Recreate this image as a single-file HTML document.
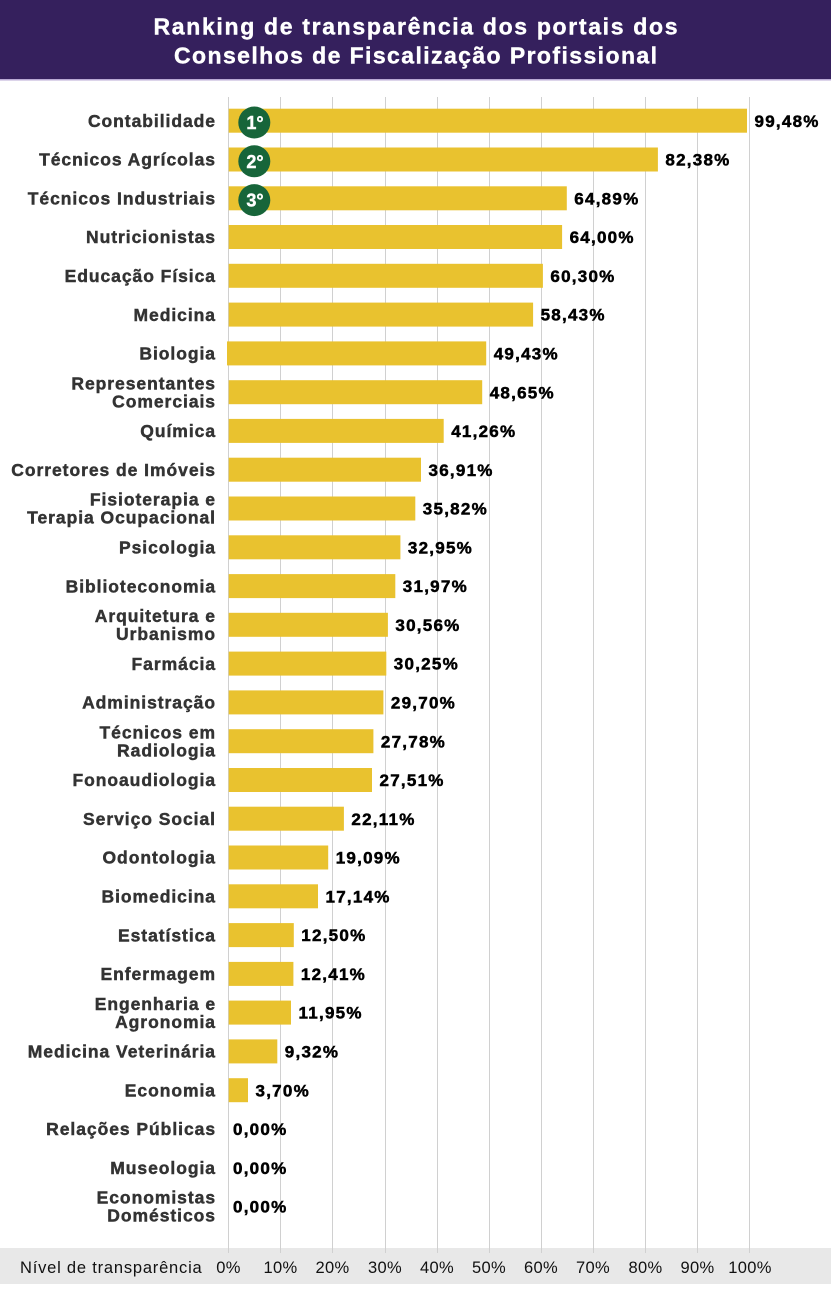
<!DOCTYPE html>
<html><head><meta charset="utf-8"><style>
html,body{margin:0;padding:0;background:#fff;}
svg{display:block;}
.lb{font-family:"Liberation Sans",sans-serif;font-weight:bold;font-size:17.5px;fill:#333;stroke:#333;stroke-width:0.45px;letter-spacing:0.95px;}
.vl{font-family:"Liberation Sans",sans-serif;font-weight:bold;font-size:17px;fill:#000;stroke:#000;stroke-width:0.5px;letter-spacing:1.25px;}
.tk{font-family:"Liberation Sans",sans-serif;font-size:16.5px;fill:#111;letter-spacing:0.3px;}
.md{font-family:"Liberation Sans",sans-serif;font-weight:bold;font-size:18px;fill:#fff;stroke:#fff;stroke-width:0.4px;}
</style></head><body>
<svg width="831" height="1300" viewBox="0 0 831 1300" xmlns="http://www.w3.org/2000/svg">
<rect x="0" y="0" width="831" height="1300" fill="#fff"/>
<rect x="0" y="0" width="831" height="79" fill="#35205d"/>
<rect x="0" y="79" width="831" height="1.5" fill="#b9a9d4"/>
<text x="415.5" y="34.5" text-anchor="middle" font-family="Liberation Sans, sans-serif" font-weight="bold" font-size="23" fill="#fff" stroke="#fff" stroke-width="0.4" textLength="524" lengthAdjust="spacing">Ranking de transparência dos portais dos</text>
<text x="415.5" y="63.5" text-anchor="middle" font-family="Liberation Sans, sans-serif" font-weight="bold" font-size="23" fill="#fff" stroke="#fff" stroke-width="0.4" textLength="483" lengthAdjust="spacing">Conselhos de Fiscalização Profissional</text>

<rect x="0" y="1248" width="831" height="36" fill="#e8e8e8"/>

<g stroke="#d0d0d0" stroke-width="1">
<line x1="228.5" y1="97" x2="228.5" y2="1253"/>
<line x1="280.5" y1="97" x2="280.5" y2="1253"/>
<line x1="332.5" y1="97" x2="332.5" y2="1253"/>
<line x1="385.5" y1="97" x2="385.5" y2="1253"/>
<line x1="437.5" y1="97" x2="437.5" y2="1253"/>
<line x1="489.5" y1="97" x2="489.5" y2="1253"/>
<line x1="541.5" y1="97" x2="541.5" y2="1253"/>
<line x1="593.5" y1="97" x2="593.5" y2="1253"/>
<line x1="645.5" y1="97" x2="645.5" y2="1253"/>
<line x1="697.5" y1="97" x2="697.5" y2="1253"/>
<line x1="749.5" y1="97" x2="749.5" y2="1253"/>
</g>

<g fill="#e9c22f">
<rect x="228.7" y="108.7" width="518.3" height="24"/>
<rect x="228.7" y="147.5" width="429.2" height="24"/>
<rect x="228.7" y="186.3" width="338.1" height="24"/>
<rect x="228.7" y="225.0" width="333.4" height="24"/>
<rect x="228.7" y="263.8" width="314.2" height="24"/>
<rect x="228.7" y="302.6" width="304.4" height="24"/>
<rect x="227" y="341.4" width="259.2" height="24"/>
<rect x="228.7" y="380.2" width="253.5" height="24"/>
<rect x="228.7" y="418.9" width="215.0" height="24"/>
<rect x="228.7" y="457.7" width="192.3" height="24"/>
<rect x="228.7" y="496.5" width="186.6" height="24"/>
<rect x="228.7" y="535.3" width="171.7" height="24"/>
<rect x="228.7" y="574.1" width="166.6" height="24"/>
<rect x="228.7" y="612.8" width="159.2" height="24"/>
<rect x="228.7" y="651.6" width="157.6" height="24"/>
<rect x="228.7" y="690.4" width="154.7" height="24"/>
<rect x="228.7" y="729.2" width="144.7" height="24"/>
<rect x="228.7" y="768.0" width="143.3" height="24"/>
<rect x="228.7" y="806.7" width="115.2" height="24"/>
<rect x="228.7" y="845.5" width="99.5" height="24"/>
<rect x="228.7" y="884.3" width="89.3" height="24"/>
<rect x="228.7" y="923.1" width="65.1" height="24"/>
<rect x="228.7" y="961.9" width="64.7" height="24"/>
<rect x="228.7" y="1000.6" width="62.3" height="24"/>
<rect x="228.7" y="1039.4" width="48.6" height="24"/>
<rect x="228.7" y="1078.2" width="19.3" height="24"/>
</g>

<g fill="#17653a">
<circle cx="254.3" cy="122.5" r="16"/>
<circle cx="254.3" cy="161.3" r="16"/>
<circle cx="254.3" cy="200.1" r="16"/>
</g>
<g text-anchor="middle">
<text x="255" y="129" class="md">1°</text>
<text x="255" y="167.8" class="md">2°</text>
<text x="255" y="206.6" class="md">3°</text>
</g>

<g text-anchor="end">
<text class="lb" x="216" y="126.9">Contabilidade</text>
<text class="lb" x="216" y="165.7">Técnicos Agrícolas</text>
<text class="lb" x="216" y="204.5">Técnicos Industriais</text>
<text class="lb" x="216" y="243.2">Nutricionistas</text>
<text class="lb" x="216" y="282.0">Educação Física</text>
<text class="lb" x="216" y="320.8">Medicina</text>
<text class="lb" x="216" y="359.6">Biologia</text>
<text class="lb" x="216" y="389.4">Representantes</text>
<text class="lb" x="216" y="407.4">Comerciais</text>
<text class="lb" x="216" y="437.1">Química</text>
<text class="lb" x="216" y="475.9">Corretores de Imóveis</text>
<text class="lb" x="216" y="505.7">Fisioterapia e</text>
<text class="lb" x="216" y="523.7">Terapia Ocupacional</text>
<text class="lb" x="216" y="553.5">Psicologia</text>
<text class="lb" x="216" y="592.3">Biblioteconomia</text>
<text class="lb" x="216" y="622.0">Arquitetura e</text>
<text class="lb" x="216" y="640.0">Urbanismo</text>
<text class="lb" x="216" y="669.8">Farmácia</text>
<text class="lb" x="216" y="708.6">Administração</text>
<text class="lb" x="216" y="738.4">Técnicos em</text>
<text class="lb" x="216" y="756.4">Radiologia</text>
<text class="lb" x="216" y="786.2">Fonoaudiologia</text>
<text class="lb" x="216" y="824.9">Serviço Social</text>
<text class="lb" x="216" y="863.7">Odontologia</text>
<text class="lb" x="216" y="902.5">Biomedicina</text>
<text class="lb" x="216" y="941.3">Estatística</text>
<text class="lb" x="216" y="980.1">Enfermagem</text>
<text class="lb" x="216" y="1009.8">Engenharia e</text>
<text class="lb" x="216" y="1027.8">Agronomia</text>
<text class="lb" x="216" y="1057.6">Medicina Veterinária</text>
<text class="lb" x="216" y="1096.4">Economia</text>
<text class="lb" x="216" y="1135.2">Relações Públicas</text>
<text class="lb" x="216" y="1174.0">Museologia</text>
<text class="lb" x="216" y="1203.7">Economistas</text>
<text class="lb" x="216" y="1221.7">Domésticos</text>
</g>

<g>
<text class="vl" x="754.5" y="126.8">99,48%</text>
<text class="vl" x="665.4" y="165.6">82,38%</text>
<text class="vl" x="574.3" y="204.4">64,89%</text>
<text class="vl" x="569.6" y="243.1">64,00%</text>
<text class="vl" x="550.4" y="281.9">60,30%</text>
<text class="vl" x="540.6" y="320.7">58,43%</text>
<text class="vl" x="493.7" y="359.5">49,43%</text>
<text class="vl" x="489.7" y="398.3">48,65%</text>
<text class="vl" x="451.2" y="437.0">41,26%</text>
<text class="vl" x="428.5" y="475.8">36,91%</text>
<text class="vl" x="422.8" y="514.6">35,82%</text>
<text class="vl" x="407.9" y="553.4">32,95%</text>
<text class="vl" x="402.8" y="592.2">31,97%</text>
<text class="vl" x="395.4" y="630.9">30,56%</text>
<text class="vl" x="393.8" y="669.7">30,25%</text>
<text class="vl" x="390.9" y="708.5">29,70%</text>
<text class="vl" x="380.9" y="747.3">27,78%</text>
<text class="vl" x="379.5" y="786.1">27,51%</text>
<text class="vl" x="351.4" y="824.8">22,11%</text>
<text class="vl" x="335.7" y="863.6">19,09%</text>
<text class="vl" x="325.5" y="902.4">17,14%</text>
<text class="vl" x="301.3" y="941.2">12,50%</text>
<text class="vl" x="300.9" y="980.0">12,41%</text>
<text class="vl" x="298.5" y="1018.7">11,95%</text>
<text class="vl" x="284.8" y="1057.5">9,32%</text>
<text class="vl" x="255.5" y="1096.3">3,70%</text>
<text class="vl" x="233" y="1135.1">0,00%</text>
<text class="vl" x="233" y="1173.9">0,00%</text>
<text class="vl" x="233" y="1212.6">0,00%</text>
</g>

<text class="tk" x="20" y="1273" textLength="182" lengthAdjust="spacing">Nível de transparência</text>
<g text-anchor="middle">
<text class="tk" x="228.5" y="1273">0%</text>
<text class="tk" x="280.5" y="1273">10%</text>
<text class="tk" x="332.5" y="1273">20%</text>
<text class="tk" x="385" y="1273">30%</text>
<text class="tk" x="437" y="1273">40%</text>
<text class="tk" x="489" y="1273">50%</text>
<text class="tk" x="541" y="1273">60%</text>
<text class="tk" x="593" y="1273">70%</text>
<text class="tk" x="645.5" y="1273">80%</text>
<text class="tk" x="697.5" y="1273">90%</text>
<text class="tk" x="750" y="1273">100%</text>
</g>
</svg>
</body></html>
